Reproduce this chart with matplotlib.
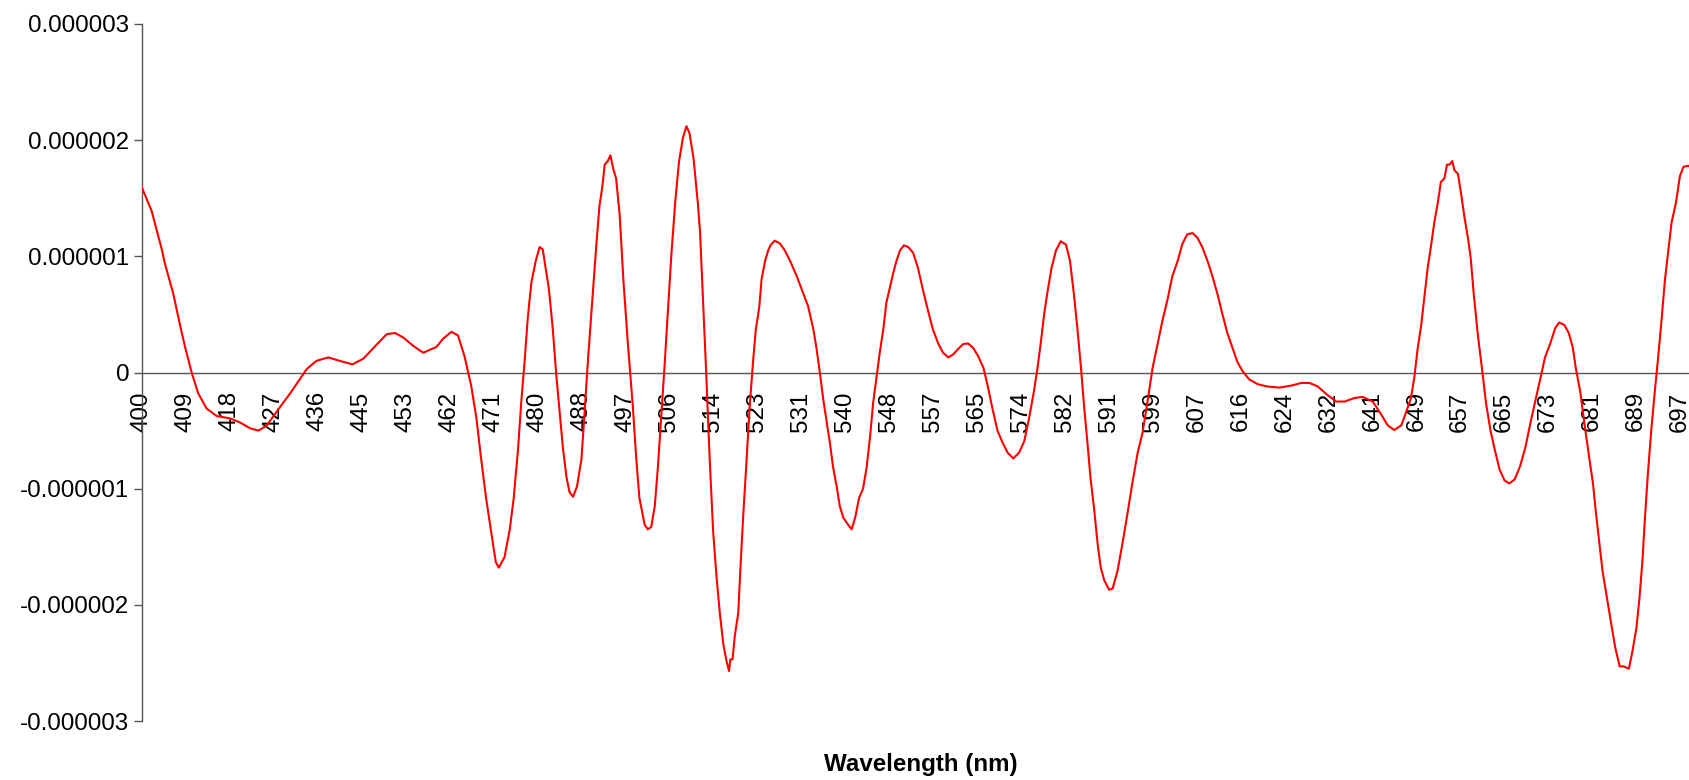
import numpy as np
import matplotlib.pyplot as plt

plt.rcParams['font.family'] = ['Liberation Sans', 'DejaVu Sans']

# category labels shown on the x axis (every label step = one category slot)
wl_labels = [400, 409, 418, 427, 436, 445, 453, 462, 471, 480, 488, 497, 506,
             514, 523, 531, 540, 548, 557, 565, 574, 582, 591, 599, 607, 616,
             624, 632, 641, 649, 657, 665, 673, 681, 689, 697]

# curve: position in label steps, value in 1e-6 units
cat_pos = [0.00, 0.22, 0.45, 0.52, 0.71, 0.87, 0.98, 1.13, 1.28, 1.47,
           1.70, 2.00, 2.23, 2.46, 2.65, 2.83, 3.06, 3.37, 3.75, 3.97,
           4.24, 4.50, 4.79, 5.04, 5.34, 5.57, 5.76, 5.95, 6.17, 6.40,
           6.70, 6.85, 7.04, 7.19, 7.34, 7.49, 7.61, 7.72, 7.83, 7.95,
           8.05, 8.12, 8.25, 8.37, 8.46, 8.56, 8.63, 8.71, 8.78, 8.86,
           8.96, 9.05, 9.12, 9.26, 9.35, 9.43, 9.50, 9.58, 9.66, 9.73,
           9.81, 9.90, 10.00, 10.07, 10.15, 10.25, 10.34, 10.41, 10.48, 10.53,
           10.60, 10.66, 10.72, 10.79, 10.87, 10.96, 11.06, 11.17, 11.25, 11.32,
           11.44, 11.51, 11.59, 11.67, 11.74, 11.82, 11.89, 11.97, 12.05, 12.14,
           12.22, 12.31, 12.39, 12.46, 12.55, 12.65, 12.70, 12.76, 12.84, 12.92,
           13.00, 13.08, 13.15, 13.23, 13.30, 13.36, 13.39, 13.44, 13.49, 13.57,
           13.62, 13.68, 13.76, 13.83, 13.91, 13.97, 14.05, 14.10, 14.18, 14.25,
           14.31, 14.40, 14.52, 14.63, 14.75, 14.90, 15.05, 15.16, 15.28, 15.35,
           15.43, 15.50, 15.58, 15.66, 15.73, 15.81, 15.88, 15.96, 16.07, 16.15,
           16.23, 16.32, 16.41, 16.49, 16.57, 16.64, 16.72, 16.79, 16.87, 16.94,
           17.02, 17.10, 17.17, 17.25, 17.34, 17.44, 17.55, 17.66, 17.78, 17.89,
           18.00, 18.12, 18.23, 18.35, 18.46, 18.58, 18.69, 18.80, 18.92, 19.03,
           19.15, 19.25, 19.36, 19.47, 19.58, 19.70, 19.83, 19.96, 20.08, 20.19,
           20.30, 20.38, 20.46, 20.53, 20.61, 20.70, 20.80, 20.91, 21.03, 21.12,
           21.21, 21.29, 21.37, 21.44, 21.52, 21.59, 21.67, 21.75, 21.82, 21.90,
           22.01, 22.09, 22.20, 22.31, 22.43, 22.54, 22.66, 22.77, 22.88, 23.00,
           23.11, 23.22, 23.34, 23.45, 23.57, 23.68, 23.79, 23.91, 24.02, 24.13,
           24.25, 24.36, 24.48, 24.59, 24.70, 24.82, 24.93, 25.05, 25.20, 25.39,
           25.60, 25.89, 26.19, 26.38, 26.57, 26.76, 26.95, 27.18, 27.37, 27.59,
           27.78, 28.01, 28.20, 28.35, 28.50, 28.66, 28.77, 28.88, 28.96, 29.03,
           29.11, 29.19, 29.26, 29.34, 29.41, 29.49, 29.56, 29.64, 29.70, 29.76,
           29.82, 29.87, 29.95, 30.02, 30.10, 30.18, 30.24, 30.31, 30.40, 30.50,
           30.59, 30.69, 30.79, 30.90, 31.01, 31.12, 31.24, 31.36, 31.48, 31.59,
           31.70, 31.82, 31.93, 32.05, 32.16, 32.25, 32.37, 32.47, 32.56, 32.63,
           32.73, 32.82, 32.92, 33.02, 33.09, 33.17, 33.24, 33.34, 33.44, 33.53,
           33.63, 33.72, 33.84, 33.92, 34.01, 34.08, 34.15, 34.20, 34.27, 34.35,
           34.43, 34.50, 34.58, 34.66, 34.73, 34.81, 34.91, 35.00, 35.08, 35.19,
           35.23]

deriv = [1.59, 1.39, 1.06, 0.94, 0.68, 0.40, 0.22, 0.00, -0.18, -0.31,
         -0.375, -0.395, -0.43, -0.48, -0.50, -0.46, -0.34, -0.18, 0.03, 0.10,
         0.13, 0.10, 0.07, 0.12, 0.24, 0.33, 0.34, 0.30, 0.23, 0.17,
         0.22, 0.29, 0.35, 0.32, 0.14, -0.11, -0.39, -0.75, -1.08, -1.38,
         -1.63, -1.68, -1.59, -1.35, -1.08, -0.65, -0.26, 0.11, 0.47, 0.77,
         0.96, 1.08, 1.06, 0.72, 0.37, -0.03, -0.32, -0.65, -0.90, -1.03,
         -1.07, -0.98, -0.75, -0.36, 0.11, 0.63, 1.10, 1.43, 1.61, 1.79,
         1.82, 1.87, 1.76, 1.67, 1.36, 0.77, 0.24, -0.29, -0.75, -1.08,
         -1.31, -1.35, -1.33, -1.15, -0.82, -0.36, 0.04, 0.53, 1.03, 1.49,
         1.81, 2.02, 2.12, 2.06, 1.85, 1.46, 1.21, 0.70, 0.00, -0.75,
         -1.38, -1.78, -2.07, -2.34, -2.48, -2.57, -2.47, -2.47, -2.27, -2.07,
         -1.68, -1.25, -0.75, -0.29, 0.11, 0.37, 0.57, 0.80, 0.96, 1.05,
         1.10, 1.135, 1.11, 1.05, 0.96, 0.83, 0.68, 0.57, 0.37, 0.21,
         -0.01, -0.22, -0.42, -0.62, -0.82, -0.98, -1.15, -1.25, -1.31, -1.35,
         -1.25, -1.08, -1.00, -0.82, -0.55, -0.26, -0.03, 0.17, 0.37, 0.60,
         0.73, 0.86, 0.96, 1.05, 1.095, 1.08, 1.03, 0.90, 0.70, 0.53,
         0.37, 0.25, 0.17, 0.13, 0.155, 0.205, 0.245, 0.25, 0.21, 0.14,
         0.04, -0.12, -0.32, -0.50, -0.60, -0.69, -0.74, -0.69, -0.59, -0.39,
         -0.16, 0.04, 0.27, 0.50, 0.70, 0.90, 1.05, 1.13, 1.10, 0.96,
         0.67, 0.37, 0.04, -0.29, -0.62, -0.92, -1.18, -1.48, -1.68, -1.79,
         -1.87, -1.86, -1.71, -1.48, -1.21, -0.95, -0.69, -0.52, -0.26, 0.04,
         0.24, 0.44, 0.63, 0.83, 0.96, 1.11, 1.19, 1.20, 1.16, 1.08,
         0.96, 0.83, 0.67, 0.50, 0.34, 0.21, 0.09, 0.01, -0.06, -0.10,
         -0.12, -0.13, -0.11, -0.09, -0.09, -0.12, -0.185, -0.25, -0.25, -0.22,
         -0.21, -0.25, -0.36, -0.455, -0.495, -0.455, -0.34, -0.22, -0.03, 0.20,
         0.40, 0.67, 0.90, 1.10, 1.29, 1.46, 1.64, 1.67, 1.79, 1.79,
         1.82, 1.74, 1.71, 1.54, 1.33, 1.15, 0.98, 0.67, 0.33, 0.02,
         -0.27, -0.50, -0.67, -0.84, -0.93, -0.955, -0.92, -0.81, -0.65, -0.45,
         -0.26, -0.06, 0.13, 0.25, 0.38, 0.43, 0.41, 0.34, 0.22, 0.04,
         -0.16, -0.42, -0.69, -0.95, -1.21, -1.48, -1.71, -1.94, -2.17, -2.37,
         -2.53, -2.53, -2.55, -2.40, -2.20, -1.94, -1.61, -1.28, -0.88, -0.49,
         -0.16, 0.11, 0.44, 0.80, 1.03, 1.29, 1.46, 1.69, 1.77, 1.78,
         1.77]

y_ticks = [-3e-6, -2e-6, -1e-6, 0, 1e-6, 2e-6, 3e-6]
y_ticklabels = ['-0.000003', '-0.000002', '-0.000001', '0',
                '0.000001', '0.000002', '0.000003']

fig = plt.figure(figsize=(16.9, 7.8), dpi=100)
ax = fig.add_axes([142 / 1690, 1 - 721 / 780, 1548 / 1690, 697 / 780])

ax.plot(cat_pos, np.array(deriv) * 1e-6, color='#ff0000', lw=1.5, zorder=3)

ax.set_xlim(0, 35.23)
ax.set_ylim(-3e-6, 3e-6)

axis_col = '#555555'
ax.spines['top'].set_visible(False)
ax.spines['right'].set_visible(False)
ax.spines['bottom'].set_position(('data', 0))
ax.spines['bottom'].set_color(axis_col)
ax.spines['left'].set_color(axis_col)
ax.spines['bottom'].set_linewidth(1.0)
ax.spines['left'].set_linewidth(1.0)

ax.set_yticks(y_ticks)
ax.set_yticklabels(y_ticklabels)
ax.tick_params(axis='y', direction='out', length=6, width=1, color=axis_col,
               labelsize=17.4, pad=3)

ax.set_xticks(range(len(wl_labels)))
ax.set_xticklabels([str(w) for w in wl_labels], rotation=90, va='top', ha='center')
ax.tick_params(axis='x', length=0, labelsize=17.4, pad=13.5)

fig.text(921 / 1690, 1 - 765 / 780, 'Wavelength (nm)', ha='center', va='center',
         fontsize=17.4, fontweight='bold')

fig.savefig('out.png', dpi=100)
